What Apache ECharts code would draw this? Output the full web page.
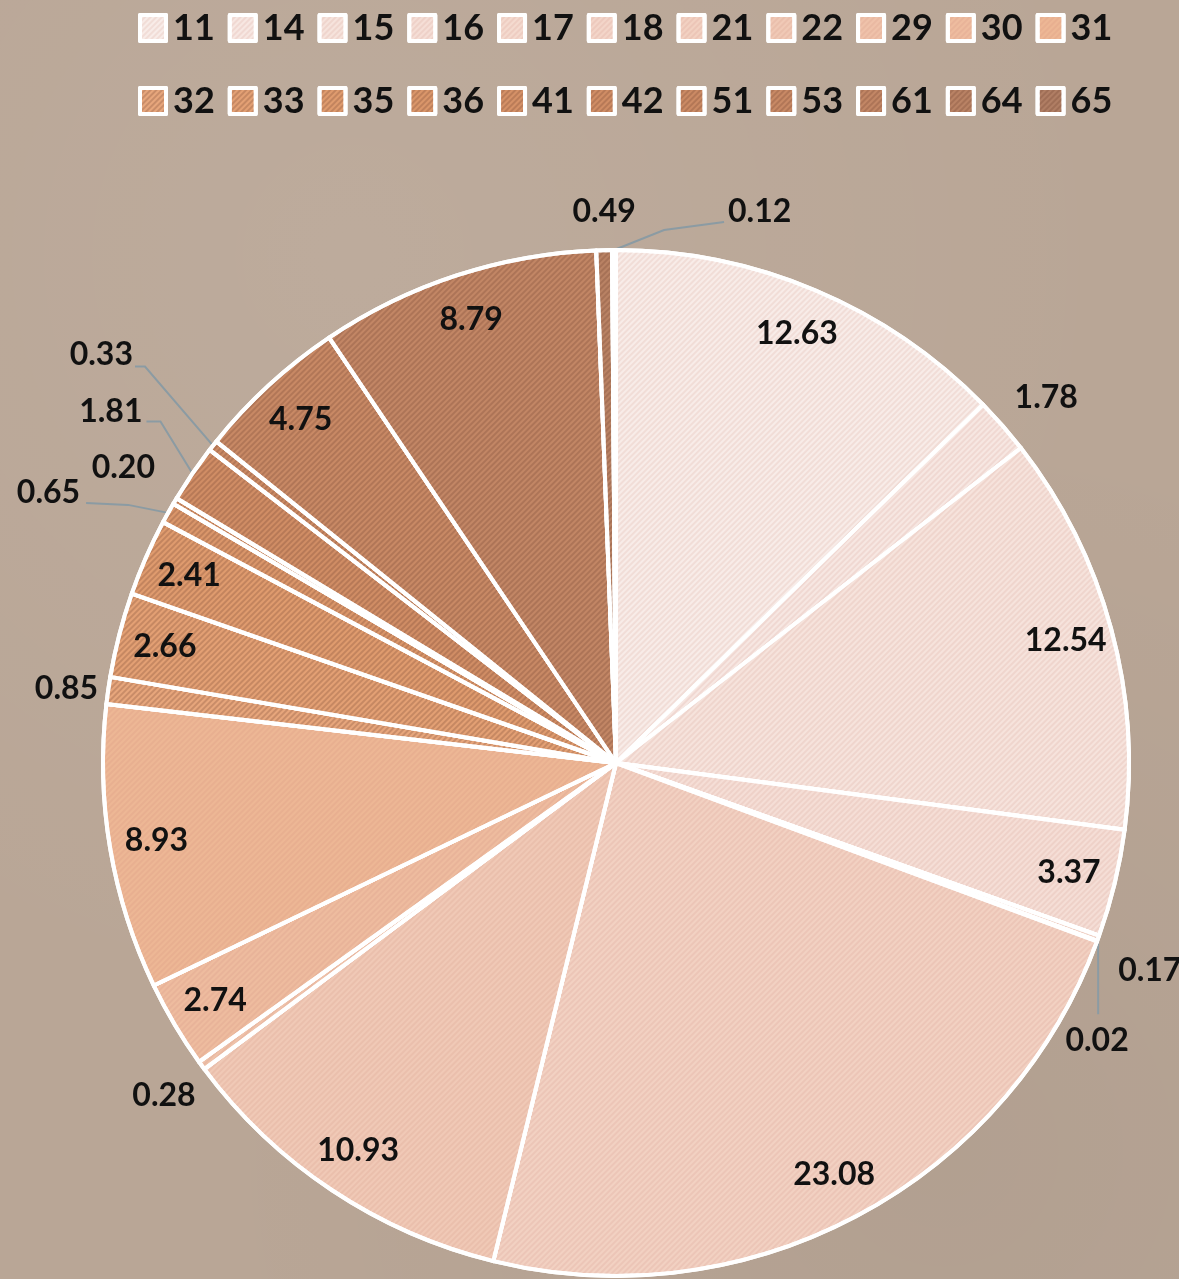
<!DOCTYPE html>
<html>
<head>
<meta charset="utf-8">
<script src="https://cdn.jsdelivr.net/npm/echarts@6/dist/echarts.min.js"></script>
<style>
  html, body { margin: 0; padding: 0; }
  body {
    background: #b9a696;
    background-image: radial-gradient(circle at 30% 20%, rgba(255,255,255,0.06), rgba(0,0,0,0) 60%),
                      radial-gradient(circle at 80% 90%, rgba(0,0,0,0.04), rgba(0,0,0,0) 50%);
  }
  #chart { width: 1179px; height: 1279px; }
</style>
</head>
<body>
<div id="chart"></div>
<script>
// 分类（图例）
const categories = ['11', '14', '15', '16', '17', '18', '21', '22', '29', '30', '31',
  '32', '33', '35', '36', '41', '42', '51', '53', '61', '64', '65']
// 占比数值
const values = [12.63, 1.78, 12.54, 3.37, 0.17, 0.02, 23.08, 10.93, 0.28, 2.74, 8.93,
  0.85, 2.66, 2.41, 0.65, 0.20, 1.81, 0.33, 4.75, 8.79, 0.49, 0.12]
// 图例两行
const legendRow1 = categories.slice(0, 11)
const legendRow2 = categories.slice(11)
// 外侧标签（带引导线 / 不带引导线）
const outsideWithLine = ['17', '18', '36', '42', '51', '65']
const outsideNoLine = ['14', '29', '32', '41', '64']

// 颜色：由浅粉到棕
const colors = ['#f8ece8', '#f7e7e2', '#f6e3dc', '#f5ded6', '#f4dacf', '#f3d5c9', '#f2d1c2', '#f0c9b6',
  '#efc2aa', '#eebc9f', '#edb795', '#e7a67c', '#e3a074', '#df9b6e', '#da966a', '#d59167',
  '#d08d65', '#cb8a64', '#c88965', '#c28665', '#b98264', '#b07e64']

const textFont = 'Lato, "Open Sans", sans-serif'

function isOutside(name) {
  return outsideWithLine.indexOf(name) > -1 || outsideNoLine.indexOf(name) > -1
}

const mainData = categories.map((name, i) => {
  const dark = i >= 11
  const item = {
    name: name,
    value: values[i],
    itemStyle: {
      color: colors[i],
      decal: {
        symbol: 'rect',
        symbolSize: 1,
        dashArrayX: [1, 0],
        dashArrayY: [2, 2],
        rotation: -Math.PI / 4,
        color: dark ? 'rgba(105, 60, 40, 0.24)' : 'rgba(200, 130, 110, 0.14)'
      }
    }
  }
  if (isOutside(name)) {
    item.label = { show: true, position: 'outside' }
    item.labelLine = { show: outsideWithLine.indexOf(name) > -1 }
  }
  return item
})

const labelData = categories.map((name, i) => ({
  name: name,
  value: values[i],
  label: { show: !isOutside(name) }
}))

// 小扇区标签微调：相对扇区外缘点 p0 的偏移
// [标签dx, 标签dy, 对齐, 引导线折点(相对p0)]
const labelTweaks = {
  '65': [114, -38, 'left', [[50, -20], [110, -28]]],
  '64': [0, -38, 'center', null],
  '17': [20, 32, 'left', [[0, 40], [0, 76]]],
  '18': [0, 100, 'center', null],
  '14': [12, -28, 'left', null],
  '29': [-6, 30, 'right', null],
  '32': [-10, -2, 'right', null],
  '36': [-88, -20, 'right', [[-40, -8], [-82, -10]]],
  '41': [-20, -33, 'right', null],
  '42': [-50, -62, 'right', [[-32, -52], [-46, -52]]],
  '51': [-80, -91, 'right', [[-68, -79], [-78, -79]]]
}

function tuneLabel(params) {
  if (params.seriesIndex !== 0 || !params.labelLinePoints) return
  const p0 = params.labelLinePoints[0]
  const t = labelTweaks[categories[params.dataIndex]]
  if (!t) return
  const res = { x: p0[0] + t[0], y: p0[1] + t[1], align: t[2], verticalAlign: 'middle' }
  if (t[3]) {
    res.labelLinePoints = [p0].concat(t[3].map(d => [p0[0] + d[0], p0[1] + d[1]]))
  } else {
    res.labelLinePoints = [p0, p0, p0]
  }
  return res
}

const chart = echarts.init(document.getElementById('chart'))

const legendBase = {
  left: 133,
  icon: 'rect',
  itemWidth: 26,
  itemHeight: 26,
  itemGap: 13,
  selectedMode: false,
  itemStyle: {
    borderColor: '#ffffff',
    borderWidth: 4
  },
  textStyle: {
    fontFamily: textFont,
    fontWeight: 'bold',
    fontSize: 36,
    color: '#111111',
    padding: [0, 0, 0, 2]
  }
}

chart.setOption({
  backgroundColor: 'transparent',
  legend: [
    Object.assign({}, legendBase, { top: 5, data: legendRow1 }),
    Object.assign({}, legendBase, { top: 78, data: legendRow2 })
  ],
  series: [
    {
      name: 'main',
      type: 'pie',
      center: [616, 763],
      radius: [0, 513],
      startAngle: 90,
      clockwise: true,
      avoidLabelOverlap: true,
      itemStyle: {
        borderColor: '#ffffff',
        borderWidth: 4
      },
      label: {
        show: false,
        overflow: 'none',
        fontFamily: textFont,
        fontWeight: 'bold',
        fontSize: 32,
        color: '#111111',
        formatter: p => p.value.toFixed(2)
      },
      labelLine: {
        length: 14,
        length2: 14,
        smooth: false,
        lineStyle: { color: '#8b9ba3', width: 2 }
      },
      labelLayout: tuneLabel,
      emphasis: { disabled: true },
      data: mainData
    },
    {
      name: 'labels',
      type: 'pie',
      silent: true,
      center: [616, 763],
      radius: [413, 513],
      startAngle: 90,
      clockwise: true,
      itemStyle: { color: 'rgba(0,0,0,0)', borderWidth: 0 },
      label: {
        position: 'inside',
        fontFamily: textFont,
        fontWeight: 'bold',
        fontSize: 32,
        color: '#111111',
        formatter: p => p.value.toFixed(2)
      },
      labelLine: { show: false },
      emphasis: { disabled: true },
      data: labelData
    }
  ]
})
</script>
</body>
</html>
